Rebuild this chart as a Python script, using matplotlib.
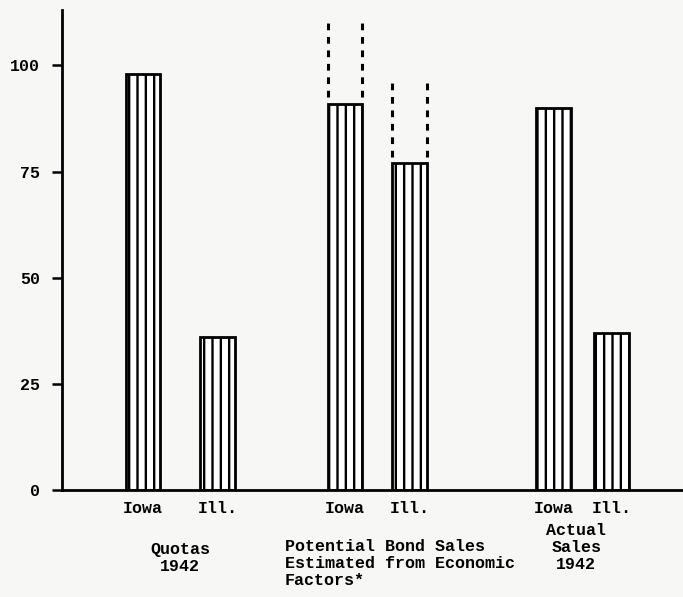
import numpy as np
import matplotlib.pyplot as plt

# values (index, arbitrary units)
groups = ['Quotas\n1942',
          'Potential Bond Sales\nEstimated from Economic\nFactors*',
          'Actual\nSales\n1942']
states = ['Iowa', 'Ill.']
iowa = [98, 91, 90]
ill = [36, 77, 37]
# upper ends of the dashed range on the "potential" bars
potential_upper = [111, 96]

yticks = [0, 25, 50, 75, 100]

plt.rcParams['hatch.linewidth'] = 1.7
plt.rcParams['font.family'] = ['Liberation Mono', 'DejaVu Sans Mono']
plt.rcParams['font.weight'] = 'bold'

bg = '#f7f7f5'
fig = plt.figure(figsize=(6.83, 5.97), dpi=100, facecolor=bg)
ax = fig.add_axes([0.091, 0.179, 0.909, 0.804], facecolor=bg)

x = np.array([0, 0.98, 2.0])
half_gap = np.array([0.186, 0.161, 0.144])
w = 0.172
pos_iowa = x - half_gap
pos_ill = x + half_gap

for pos, vals in [(pos_iowa, iowa), (pos_ill, ill)]:
    ax.bar(pos, vals, width=w, facecolor='white', edgecolor='black',
           hatch='||', linewidth=2, zorder=2)

# dashed extensions over the potential-sales bars
for pos, base, top in [(pos_iowa[1], iowa[1], potential_upper[0]),
                       (pos_ill[1], ill[1], potential_upper[1])]:
    for edge in (pos - w / 2, pos + w / 2):
        ax.plot([edge, edge], [base + 1.5, top], color='black', lw=2.2,
                ls=(0, (2.2, 2.2)), zorder=3)

ax.set_xlim(-0.587, 2.5)
ax.set_ylim(0, 113)

ax.set_yticks(yticks)
ax.set_yticklabels([str(t) for t in yticks], fontsize=12)
ax.tick_params(axis='y', length=7, width=1.8, pad=9, direction='out')

ax.set_xticks(np.concatenate([pos_iowa, pos_ill]))
ax.set_xticklabels([states[0]] * 3 + [states[1]] * 3, fontsize=12)
ax.tick_params(axis='x', length=0, pad=8)

for side in ['top', 'right']:
    ax.spines[side].set_visible(False)
ax.spines['left'].set_linewidth(2)
ax.spines['bottom'].set_linewidth(2)

# group captions under the bars
ax.text(x[0], -12.2, groups[0], ha='center', va='top', fontsize=12,
        linespacing=1.15)
ax.text(x[1] - 0.46, -11.6, groups[1], ha='left', va='top', fontsize=12,
        linespacing=1.15)
ax.text(x[2] - 0.03, -7.8, groups[2], ha='center', va='top', fontsize=12,
        linespacing=1.15)

fig.savefig('out.png', dpi=100, facecolor=bg)
